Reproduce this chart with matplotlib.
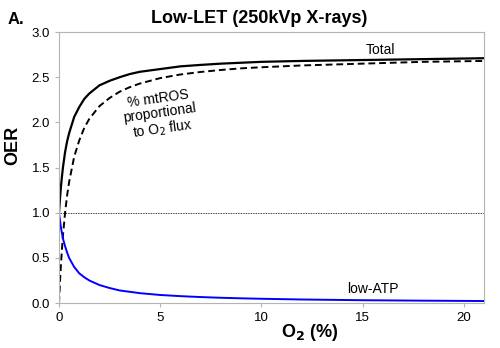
import matplotlib
matplotlib.use("Agg")
import matplotlib.pyplot as plt

plt.rcParams['font.family'] = ['Liberation Sans', 'DejaVu Sans']

# O2 (%) sample points and OER values
o2 = [0, 0.05, 0.1, 0.15, 0.2, 0.3, 0.4, 0.5, 0.75, 1, 1.25, 1.5, 2, 2.5, 3, 3.5, 4, 5, 6,
      7, 8, 9, 10, 12, 15, 18, 21]
total = [1.00, 1.16, 1.30, 1.41, 1.51, 1.67, 1.79, 1.88, 2.06, 2.17, 2.26, 2.32, 2.41,
         2.46, 2.50, 2.535, 2.56, 2.59, 2.62, 2.636, 2.65, 2.66, 2.67, 2.68, 2.69, 2.70, 2.71]
mtros = [0.00, 0.24, 0.44, 0.61, 0.76, 1.00, 1.19, 1.34, 1.62, 1.80, 1.94, 2.04, 2.18,
         2.27, 2.34, 2.39, 2.43, 2.49, 2.53, 2.558, 2.58, 2.598, 2.61, 2.63, 2.65, 2.67, 2.68]
low_atp = [1.00, 0.91, 0.83, 0.77, 0.71, 0.63, 0.56, 0.50, 0.40, 0.33, 0.286, 0.25, 0.20,
           0.167, 0.14, 0.125, 0.11, 0.09, 0.077, 0.067, 0.059, 0.053, 0.048, 0.040,
           0.032, 0.027, 0.023]

xticks = [0, 5, 10, 15, 20]
yticks = [0.0, 0.5, 1.0, 1.5, 2.0, 2.5, 3.0]

fig = plt.figure(figsize=(5.0, 3.48), dpi=100)
ax = fig.add_axes([0.118, 0.129, 0.85, 0.779])

ax.axhline(1.0, color='black', linewidth=0.6, linestyle=(0, (1, 1)))
ax.plot(o2, total, color='black', linewidth=1.6)
ax.plot(o2, mtros, color='black', linewidth=1.4, linestyle=(0, (3.5, 2)))
ax.plot(o2, low_atp, color='#0000ff', linewidth=1.4)

ax.set_xlim(0, 21)
ax.set_ylim(0, 3.0)
ax.set_xticks(xticks)
ax.set_yticks(yticks)
ax.set_yticklabels([f"{v:.1f}" for v in yticks])
for s in ax.spines.values():
    s.set_color('#b4b4b4')
    s.set_linewidth(0.8)
ax.tick_params(colors='#b4b4b4', labelcolor='black', labelsize=9.5, length=3, width=0.8)

# axis labels placed as in the original (off-centre)
fig.text(0.62, 0.045, 'O$_\\mathbf{2}$ (%)', fontsize=13, fontweight='bold',
         ha='center', va='center')
fig.text(0.026, 0.583, 'OER', fontsize=13, fontweight='bold', rotation=90,
         ha='center', va='center')

ax.text(15.9, 2.80, 'Total', fontsize=10, ha='center', va='center')
ax.text(15.5, 0.16, 'low-ATP', fontsize=10, ha='center', va='center')
ax.text(5.0, 2.08, '% mtROS\nproportional\nto O$_2$ flux', fontsize=10, ha='center',
        va='center', rotation=8, linespacing=1.05)

fig.text(0.518, 0.948, 'Low-LET (250kVp X-rays)', fontsize=13, fontweight='bold',
         ha='center', va='center')
fig.text(0.016, 0.945, 'A.', fontsize=12, fontweight='bold', ha='left', va='center')

fig.savefig('out.png', dpi=100)
